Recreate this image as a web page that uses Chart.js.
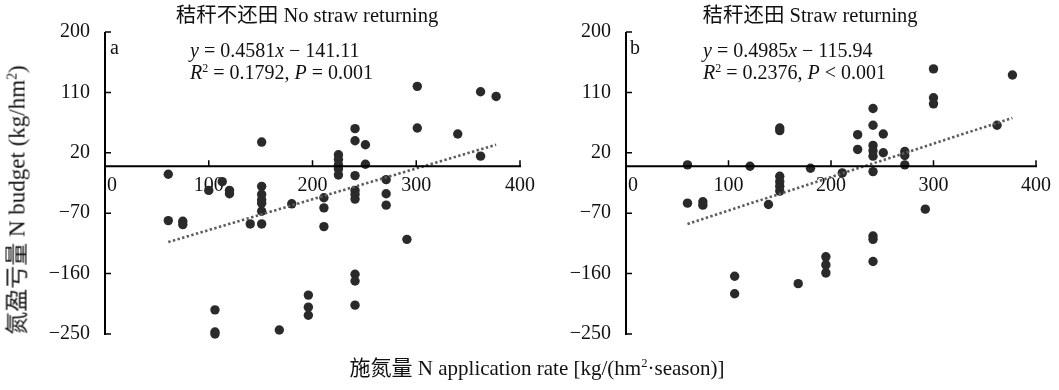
<!DOCTYPE html>
<html>
<head>
<meta charset="utf-8">
<script src="https://cdn.jsdelivr.net/npm/chart.js@4/dist/chart.umd.min.js"></script>
<style>
  html, body { margin:0; padding:0; background:#fff; }
  #wrap { position:relative; width:1059px; height:390px; overflow:hidden; font-family:"Liberation Serif","Noto Sans CJK SC",serif; color:#111; }
  canvas { position:absolute; top:0; }
  .t { position:absolute; white-space:nowrap; font-size:20px; line-height:1; }
  .c { transform:translate(-50%,-50%); }
  .l { transform:translate(0,-50%); }
  sup { font-size:0.6em; vertical-align:0.6em; line-height:0; }
</style>
</head>
<body>
<div id="wrap">
  <canvas id="ca" width="545" height="390" style="left:0"></canvas>
  <canvas id="cb" width="514" height="390" style="left:545px"></canvas>
  <div class="t c" style="left:307px;top:15px;font-size:20.5px">秸秆不还田 No straw returning</div>
  <div class="t c" style="left:810px;top:15px;font-size:20.5px">秸秆还田 Straw returning</div>
  <div class="t l" style="left:110px;top:47px">a</div>
  <div class="t l" style="left:630px;top:47px">b</div>
  <div class="t l" style="left:190px;top:50px"><i>y</i> = 0.4581<i>x</i> − 141.11</div>
  <div class="t l" style="left:190px;top:72px"><i>R</i><sup>2</sup> = 0.1792, <i>P</i> = 0.001</div>
  <div class="t l" style="left:703px;top:50px"><i>y</i> = 0.4985<i>x</i> − 115.94</div>
  <div class="t l" style="left:703px;top:72px"><i>R</i><sup>2</sup> = 0.2376, <i>P</i> &lt; 0.001</div>
  <div class="t c" style="left:537px;top:368px;font-size:21px">施氮量 N application rate [kg/(hm<sup>2</sup>·season)]</div>
  <div class="t c" style="left:17px;top:200px;font-size:23px;transform:translate(-50%,-50%) rotate(-90deg)">氮盈亏量 N budget (kg/hm<sup>2</sup>)</div>
</div>
<script>
// ---- data ----
const xTicks = [0, 100, 200, 300, 400];
const yTicks = [-250, -160, -70, 20, 110, 200];

// Panel a: 秸秆不还田 No straw returning
const xA = [61, 61, 75, 75, 100, 106, 106, 106, 113, 120, 120, 140,
            151, 151, 151, 151, 151, 151, 151, 168, 180, 196, 196, 196,
            211, 211, 211, 225, 225, 225, 225, 225,
            241, 241, 241, 241, 241, 241, 241, 241, 241,
            251, 251, 271, 271, 271, 291, 301, 301, 340, 362, 362, 377];
const yA = [-12, -81, -82, -87, -36, -214, -247, -250, -23, -36, -41, -86,
            36, -30, -42, -50, -55, -67, -86, -244, -56, -192, -210, -222,
            -47, -62, -90, 17, 10, 2, -4, -13,
            56, 38, -14, -36, -42, -49, -161, -171, -207,
            32, 3, -20, -41, -58, -109, 119, 57, 48, 111, 15, 104];
const trendAx = [61, 377];
const trendAy = [-113, 32];

// Panel b: 秸秆还田 Straw returning
const xB = [60, 60, 75, 75, 106, 106, 121, 139,
            150, 150, 150, 150, 150, 150, 168, 180, 195, 195, 195,
            211, 226, 226, 241, 241, 241, 241, 241, 241, 241, 241, 241,
            251, 251, 272, 272, 272, 292, 300, 300, 300, 362, 377];
const yB = [2, -55, -53, -58, -164, -190, 0, -57,
            57, 53, -15, -23, -30, -37, -175, -3, -135, -147, -159,
            -10, 47, 25, 86, 61, 31, 23, 15, -8, -104, -109, -142,
            48, 20, 22, 16, 2, -64, 145, 102, 93, 61, 136];
const trendBx = [60, 377];
const trendBy = [-86, 72];

const FONT = '"Liberation Serif", "Noto Sans CJK SC", serif';

const axesPlugin = {
  id: 'inwardAxes',
  afterDatasetsDraw(chart) {
    const {ctx, chartArea, scales} = chart;
    const xs = scales.x, ys = scales.y;
    const y0 = ys.getPixelForValue(0);
    ctx.save();
    ctx.strokeStyle = '#000';
    ctx.lineWidth = 2;
    ctx.beginPath();
    ctx.moveTo(chartArea.left, chartArea.top);
    ctx.lineTo(chartArea.left, chartArea.bottom + 1);
    ctx.moveTo(chartArea.left, y0);
    ctx.lineTo(chartArea.right + 1, y0);
    ctx.stroke();
    ctx.lineWidth = 1.5;
    ctx.beginPath();
    ys.ticks.forEach(t => {
      const p = ys.getPixelForValue(t.value);
      ctx.moveTo(chartArea.left, p);
      ctx.lineTo(chartArea.left + 6, p);
    });
    xs.ticks.forEach(t => {
      if (t.value === 0) return;
      const p = xs.getPixelForValue(t.value);
      ctx.moveTo(p, y0);
      ctx.lineTo(p, y0 - 6);
    });
    ctx.stroke();
    ctx.restore();
  }
};

function makeChart(id, xs, ys, tx, ty, yAxisW, padRight) {
  const pts = xs.map((x, i) => ({x: x, y: ys[i]}));
  const trend = tx.map((x, i) => ({x: x, y: ty[i]}));
  return new Chart(document.getElementById(id), {
    type: 'scatter',
    data: {
      datasets: [
        { data: trend, type: 'line', showLine: true, borderColor: '#5c5c5c', borderWidth: 2.6,
          borderDash: [2.4, 2.4], pointRadius: 0, fill: false, order: 0, clip: false },
        { data: pts, pointRadius: 4.7, pointBackgroundColor: '#2a2a2a', pointBorderWidth: 0,
          pointHoverRadius: 4.7, order: 1, clip: false }
      ]
    },
    options: {
      responsive: false,
      animation: false,
      events: [],
      layout: { padding: { top: 32, bottom: 56, left: 0, right: padRight } },
      plugins: { legend: { display: false }, tooltip: { enabled: false } },
      scales: {
        x: {
          type: 'linear', min: 0, max: 400, position: { y: 0 },
          afterBuildTicks: s => { s.ticks = xTicks.map(v => ({value: v})); },
          ticks: { padding: 8, color: '#111', font: { family: FONT, size: 20 }, maxRotation: 0,
                   callback: v => (v === 0 ? '\u2002\u20090' : String(v)) },
          grid: { display: false, drawTicks: false },
          border: { display: false }
        },
        y: {
          type: 'linear', min: -250, max: 200,
          afterBuildTicks: s => { s.ticks = yTicks.map(v => ({value: v})); },
          afterFit: s => { s.width = yAxisW; },
          ticks: { padding: 15, color: '#111', font: { family: FONT, size: 20 },
                   callback: v => String(v).replace('-', '\u2212') },
          grid: { display: false, drawTicks: false },
          border: { display: false }
        }
      }
    },
    plugins: [axesPlugin]
  });
}

makeChart('ca', xA, yA, trendAx, trendAy, 105, 25);
makeChart('cb', xB, yB, trendBx, trendBy, 81, 19);
</script>
</body>
</html>
